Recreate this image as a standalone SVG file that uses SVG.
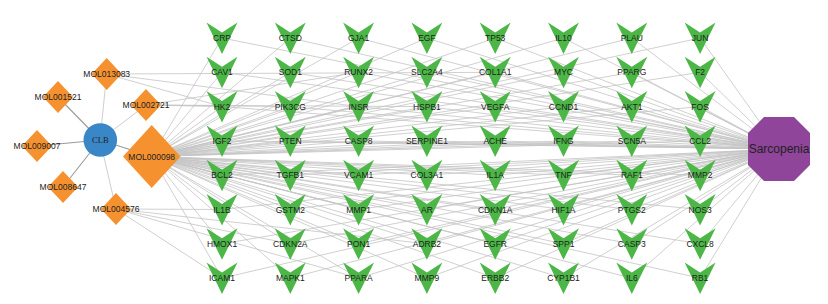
<svg xmlns="http://www.w3.org/2000/svg" xmlns:xlink="http://www.w3.org/1999/xlink" width="828" height="304" viewBox="0 0 828 304">
<style>
.e{stroke:#c4c4c4;stroke-width:0.8;fill:none}
.ed{stroke:#9a9a9a;stroke-width:1.1;fill:none}
.el{stroke:#cfcfcf;stroke-width:1;fill:none}
.t{font-family:"Liberation Sans",Arial,sans-serif;font-size:8.5px;fill:#222;text-anchor:middle}
.g{fill:#4CB747}
.o{fill:#F5922F}
</style>
<defs>
<polygon id="v" points="-15.5,-15.5 0,-5.5 15.5,-15.5 0,16" class="g"/>
</defs>
<rect width="828" height="304" fill="#fff"/>
<g id="edges">
<line class="ed" x1="100" y1="140" x2="151.7" y2="156.5"/>
<line class="ed" x1="100" y1="140" x2="37" y2="146"/>
<line class="ed" x1="100" y1="140" x2="58" y2="97"/>
<line class="ed" x1="100" y1="140" x2="63" y2="187"/>
<line class="el" x1="100" y1="140" x2="106.7" y2="74"/>
<line class="el" x1="100" y1="140" x2="146" y2="105"/>
<line class="el" x1="100" y1="140" x2="116" y2="209"/>
<line class="e" x1="106.7" y1="74" x2="222" y2="106.6"/>
<line class="e" x1="106.7" y1="74" x2="358.6" y2="106.6"/>
<line class="e" x1="106.7" y1="74" x2="495.2" y2="72.3"/>
<line class="e" x1="146" y1="105" x2="222" y2="106.6"/>
<line class="e" x1="146" y1="105" x2="290.3" y2="106.6"/>
<line class="e" x1="146" y1="105" x2="358.6" y2="72.3"/>
<line class="e" x1="146" y1="105" x2="426.9" y2="106.6"/>
<line class="e" x1="116" y1="209" x2="222" y2="209.5"/>
<line class="e" x1="116" y1="209" x2="222" y2="278.1"/>
<line class="e" x1="116" y1="209" x2="290.3" y2="243.8"/>
<line class="e" x1="116" y1="209" x2="426.9" y2="243.8"/>
<line class="e" x1="116" y1="209" x2="358.6" y2="278.1"/>
<line class="e" x1="151.7" y1="156.5" x2="222" y2="38"/>
<line class="e" x1="151.7" y1="156.5" x2="290.3" y2="38"/>
<line class="e" x1="151.7" y1="156.5" x2="358.6" y2="38"/>
<line class="e" x1="151.7" y1="156.5" x2="426.9" y2="38"/>
<line class="e" x1="151.7" y1="156.5" x2="495.2" y2="38"/>
<line class="e" x1="151.7" y1="156.5" x2="563.5" y2="38"/>
<line class="e" x1="151.7" y1="156.5" x2="631.8" y2="38"/>
<line class="e" x1="151.7" y1="156.5" x2="700.1" y2="38"/>
<line class="e" x1="151.7" y1="156.5" x2="222" y2="72.3"/>
<line class="e" x1="151.7" y1="156.5" x2="290.3" y2="72.3"/>
<line class="e" x1="151.7" y1="156.5" x2="358.6" y2="72.3"/>
<line class="e" x1="151.7" y1="156.5" x2="426.9" y2="72.3"/>
<line class="e" x1="151.7" y1="156.5" x2="495.2" y2="72.3"/>
<line class="e" x1="151.7" y1="156.5" x2="563.5" y2="72.3"/>
<line class="e" x1="151.7" y1="156.5" x2="631.8" y2="72.3"/>
<line class="e" x1="151.7" y1="156.5" x2="700.1" y2="72.3"/>
<line class="e" x1="151.7" y1="156.5" x2="222" y2="106.6"/>
<line class="e" x1="151.7" y1="156.5" x2="290.3" y2="106.6"/>
<line class="e" x1="151.7" y1="156.5" x2="358.6" y2="106.6"/>
<line class="e" x1="151.7" y1="156.5" x2="426.9" y2="106.6"/>
<line class="e" x1="151.7" y1="156.5" x2="495.2" y2="106.6"/>
<line class="e" x1="151.7" y1="156.5" x2="563.5" y2="106.6"/>
<line class="e" x1="151.7" y1="156.5" x2="631.8" y2="106.6"/>
<line class="e" x1="151.7" y1="156.5" x2="700.1" y2="106.6"/>
<line class="e" x1="151.7" y1="156.5" x2="222" y2="140.9"/>
<line class="e" x1="151.7" y1="156.5" x2="290.3" y2="140.9"/>
<line class="e" x1="151.7" y1="156.5" x2="358.6" y2="140.9"/>
<line class="e" x1="151.7" y1="156.5" x2="426.9" y2="140.9"/>
<line class="e" x1="151.7" y1="156.5" x2="495.2" y2="140.9"/>
<line class="e" x1="151.7" y1="156.5" x2="563.5" y2="140.9"/>
<line class="e" x1="151.7" y1="156.5" x2="631.8" y2="140.9"/>
<line class="e" x1="151.7" y1="156.5" x2="700.1" y2="140.9"/>
<line class="e" x1="151.7" y1="156.5" x2="222" y2="175.2"/>
<line class="e" x1="151.7" y1="156.5" x2="290.3" y2="175.2"/>
<line class="e" x1="151.7" y1="156.5" x2="358.6" y2="175.2"/>
<line class="e" x1="151.7" y1="156.5" x2="426.9" y2="175.2"/>
<line class="e" x1="151.7" y1="156.5" x2="495.2" y2="175.2"/>
<line class="e" x1="151.7" y1="156.5" x2="563.5" y2="175.2"/>
<line class="e" x1="151.7" y1="156.5" x2="631.8" y2="175.2"/>
<line class="e" x1="151.7" y1="156.5" x2="700.1" y2="175.2"/>
<line class="e" x1="151.7" y1="156.5" x2="222" y2="209.5"/>
<line class="e" x1="151.7" y1="156.5" x2="290.3" y2="209.5"/>
<line class="e" x1="151.7" y1="156.5" x2="358.6" y2="209.5"/>
<line class="e" x1="151.7" y1="156.5" x2="426.9" y2="209.5"/>
<line class="e" x1="151.7" y1="156.5" x2="495.2" y2="209.5"/>
<line class="e" x1="151.7" y1="156.5" x2="563.5" y2="209.5"/>
<line class="e" x1="151.7" y1="156.5" x2="631.8" y2="209.5"/>
<line class="e" x1="151.7" y1="156.5" x2="700.1" y2="209.5"/>
<line class="e" x1="151.7" y1="156.5" x2="222" y2="243.8"/>
<line class="e" x1="151.7" y1="156.5" x2="290.3" y2="243.8"/>
<line class="e" x1="151.7" y1="156.5" x2="358.6" y2="243.8"/>
<line class="e" x1="151.7" y1="156.5" x2="426.9" y2="243.8"/>
<line class="e" x1="151.7" y1="156.5" x2="495.2" y2="243.8"/>
<line class="e" x1="151.7" y1="156.5" x2="563.5" y2="243.8"/>
<line class="e" x1="151.7" y1="156.5" x2="631.8" y2="243.8"/>
<line class="e" x1="151.7" y1="156.5" x2="700.1" y2="243.8"/>
<line class="e" x1="151.7" y1="156.5" x2="222" y2="278.1"/>
<line class="e" x1="151.7" y1="156.5" x2="290.3" y2="278.1"/>
<line class="e" x1="151.7" y1="156.5" x2="358.6" y2="278.1"/>
<line class="e" x1="151.7" y1="156.5" x2="426.9" y2="278.1"/>
<line class="e" x1="151.7" y1="156.5" x2="495.2" y2="278.1"/>
<line class="e" x1="151.7" y1="156.5" x2="563.5" y2="278.1"/>
<line class="e" x1="151.7" y1="156.5" x2="631.8" y2="278.1"/>
<line class="e" x1="151.7" y1="156.5" x2="700.1" y2="278.1"/>
<line class="e" x1="222" y1="38" x2="779" y2="149"/>
<line class="e" x1="290.3" y1="38" x2="779" y2="149"/>
<line class="e" x1="358.6" y1="38" x2="779" y2="149"/>
<line class="e" x1="426.9" y1="38" x2="779" y2="149"/>
<line class="e" x1="495.2" y1="38" x2="779" y2="149"/>
<line class="e" x1="563.5" y1="38" x2="779" y2="149"/>
<line class="e" x1="631.8" y1="38" x2="779" y2="149"/>
<line class="e" x1="700.1" y1="38" x2="779" y2="149"/>
<line class="e" x1="222" y1="72.3" x2="779" y2="149"/>
<line class="e" x1="290.3" y1="72.3" x2="779" y2="149"/>
<line class="e" x1="358.6" y1="72.3" x2="779" y2="149"/>
<line class="e" x1="426.9" y1="72.3" x2="779" y2="149"/>
<line class="e" x1="495.2" y1="72.3" x2="779" y2="149"/>
<line class="e" x1="563.5" y1="72.3" x2="779" y2="149"/>
<line class="e" x1="631.8" y1="72.3" x2="779" y2="149"/>
<line class="e" x1="700.1" y1="72.3" x2="779" y2="149"/>
<line class="e" x1="222" y1="106.6" x2="779" y2="149"/>
<line class="e" x1="290.3" y1="106.6" x2="779" y2="149"/>
<line class="e" x1="358.6" y1="106.6" x2="779" y2="149"/>
<line class="e" x1="426.9" y1="106.6" x2="779" y2="149"/>
<line class="e" x1="495.2" y1="106.6" x2="779" y2="149"/>
<line class="e" x1="563.5" y1="106.6" x2="779" y2="149"/>
<line class="e" x1="631.8" y1="106.6" x2="779" y2="149"/>
<line class="e" x1="700.1" y1="106.6" x2="779" y2="149"/>
<line class="e" x1="222" y1="140.9" x2="779" y2="149"/>
<line class="e" x1="290.3" y1="140.9" x2="779" y2="149"/>
<line class="e" x1="358.6" y1="140.9" x2="779" y2="149"/>
<line class="e" x1="426.9" y1="140.9" x2="779" y2="149"/>
<line class="e" x1="495.2" y1="140.9" x2="779" y2="149"/>
<line class="e" x1="563.5" y1="140.9" x2="779" y2="149"/>
<line class="e" x1="631.8" y1="140.9" x2="779" y2="149"/>
<line class="e" x1="700.1" y1="140.9" x2="779" y2="149"/>
<line class="e" x1="222" y1="175.2" x2="779" y2="149"/>
<line class="e" x1="290.3" y1="175.2" x2="779" y2="149"/>
<line class="e" x1="358.6" y1="175.2" x2="779" y2="149"/>
<line class="e" x1="426.9" y1="175.2" x2="779" y2="149"/>
<line class="e" x1="495.2" y1="175.2" x2="779" y2="149"/>
<line class="e" x1="563.5" y1="175.2" x2="779" y2="149"/>
<line class="e" x1="631.8" y1="175.2" x2="779" y2="149"/>
<line class="e" x1="700.1" y1="175.2" x2="779" y2="149"/>
<line class="e" x1="222" y1="209.5" x2="779" y2="149"/>
<line class="e" x1="290.3" y1="209.5" x2="779" y2="149"/>
<line class="e" x1="358.6" y1="209.5" x2="779" y2="149"/>
<line class="e" x1="426.9" y1="209.5" x2="779" y2="149"/>
<line class="e" x1="495.2" y1="209.5" x2="779" y2="149"/>
<line class="e" x1="563.5" y1="209.5" x2="779" y2="149"/>
<line class="e" x1="631.8" y1="209.5" x2="779" y2="149"/>
<line class="e" x1="700.1" y1="209.5" x2="779" y2="149"/>
<line class="e" x1="222" y1="243.8" x2="779" y2="149"/>
<line class="e" x1="290.3" y1="243.8" x2="779" y2="149"/>
<line class="e" x1="358.6" y1="243.8" x2="779" y2="149"/>
<line class="e" x1="426.9" y1="243.8" x2="779" y2="149"/>
<line class="e" x1="495.2" y1="243.8" x2="779" y2="149"/>
<line class="e" x1="563.5" y1="243.8" x2="779" y2="149"/>
<line class="e" x1="631.8" y1="243.8" x2="779" y2="149"/>
<line class="e" x1="700.1" y1="243.8" x2="779" y2="149"/>
<line class="e" x1="222" y1="278.1" x2="779" y2="149"/>
<line class="e" x1="290.3" y1="278.1" x2="779" y2="149"/>
<line class="e" x1="358.6" y1="278.1" x2="779" y2="149"/>
<line class="e" x1="426.9" y1="278.1" x2="779" y2="149"/>
<line class="e" x1="495.2" y1="278.1" x2="779" y2="149"/>
<line class="e" x1="563.5" y1="278.1" x2="779" y2="149"/>
<line class="e" x1="631.8" y1="278.1" x2="779" y2="149"/>
<line class="e" x1="700.1" y1="278.1" x2="779" y2="149"/>
</g>
<g id="CLB"><circle cx="100.3" cy="140" r="16.8" fill="#3A87C8"/><text x="100.3" y="143" font-family="'Liberation Serif','Times New Roman',serif" font-size="8.6" fill="#222" text-anchor="middle">CLB</text></g>
<g id="MOL013083"><polygon class="o" points="106.7,58 121.7,74 106.7,90 91.7,74"/><text class="t" x="106.7" y="77">MOL013083</text></g>
<g id="MOL001521"><polygon class="o" points="58,81 73,97 58,113 43,97"/><text class="t" x="58" y="100">MOL001521</text></g>
<g id="MOL002721"><polygon class="o" points="146,89 161,105 146,121 131,105"/><text class="t" x="146" y="108">MOL002721</text></g>
<g id="MOL009007"><polygon class="o" points="37,130 52,146 37,162 22,146"/><text class="t" x="37" y="149">MOL009007</text></g>
<g id="MOL008647"><polygon class="o" points="63,171 78,187 63,203 48,187"/><text class="t" x="63" y="190">MOL008647</text></g>
<g id="MOL004576"><polygon class="o" points="116,193 131,209 116,225 101,209"/><text class="t" x="116" y="212">MOL004576</text></g>
<g id="MOL000098"><polygon class="o" points="151.7,125 180.5,156.5 151.7,188 123,156.5"/><text class="t" x="151.7" y="159.5">MOL000098</text></g>
<g id="CRP"><use xlink:href="#v" x="222" y="38"/><text class="t" x="222" y="41">CRP</text></g>
<g id="CTSD"><use xlink:href="#v" x="290.3" y="38"/><text class="t" x="290.3" y="41">CTSD</text></g>
<g id="GJA1"><use xlink:href="#v" x="358.6" y="38"/><text class="t" x="358.6" y="41">GJA1</text></g>
<g id="EGF"><use xlink:href="#v" x="426.9" y="38"/><text class="t" x="426.9" y="41">EGF</text></g>
<g id="TP53"><use xlink:href="#v" x="495.2" y="38"/><text class="t" x="495.2" y="41">TP53</text></g>
<g id="IL10"><use xlink:href="#v" x="563.5" y="38"/><text class="t" x="563.5" y="41">IL10</text></g>
<g id="PLAU"><use xlink:href="#v" x="631.8" y="38"/><text class="t" x="631.8" y="41">PLAU</text></g>
<g id="JUN"><use xlink:href="#v" x="700.1" y="38"/><text class="t" x="700.1" y="41">JUN</text></g>
<g id="CAV1"><use xlink:href="#v" x="222" y="72.3"/><text class="t" x="222" y="75.3">CAV1</text></g>
<g id="SOD1"><use xlink:href="#v" x="290.3" y="72.3"/><text class="t" x="290.3" y="75.3">SOD1</text></g>
<g id="RUNX2"><use xlink:href="#v" x="358.6" y="72.3"/><text class="t" x="358.6" y="75.3">RUNX2</text></g>
<g id="SLC2A4"><use xlink:href="#v" x="426.9" y="72.3"/><text class="t" x="426.9" y="75.3">SLC2A4</text></g>
<g id="COL1A1"><use xlink:href="#v" x="495.2" y="72.3"/><text class="t" x="495.2" y="75.3">COL1A1</text></g>
<g id="MYC"><use xlink:href="#v" x="563.5" y="72.3"/><text class="t" x="563.5" y="75.3">MYC</text></g>
<g id="PPARG"><use xlink:href="#v" x="631.8" y="72.3"/><text class="t" x="631.8" y="75.3">PPARG</text></g>
<g id="F2"><use xlink:href="#v" x="700.1" y="72.3"/><text class="t" x="700.1" y="75.3">F2</text></g>
<g id="HK2"><use xlink:href="#v" x="222" y="106.6"/><text class="t" x="222" y="109.6">HK2</text></g>
<g id="PIK3CG"><use xlink:href="#v" x="290.3" y="106.6"/><text class="t" x="290.3" y="109.6">PIK3CG</text></g>
<g id="INSR"><use xlink:href="#v" x="358.6" y="106.6"/><text class="t" x="358.6" y="109.6">INSR</text></g>
<g id="HSPB1"><use xlink:href="#v" x="426.9" y="106.6"/><text class="t" x="426.9" y="109.6">HSPB1</text></g>
<g id="VEGFA"><use xlink:href="#v" x="495.2" y="106.6"/><text class="t" x="495.2" y="109.6">VEGFA</text></g>
<g id="CCND1"><use xlink:href="#v" x="563.5" y="106.6"/><text class="t" x="563.5" y="109.6">CCND1</text></g>
<g id="AKT1"><use xlink:href="#v" x="631.8" y="106.6"/><text class="t" x="631.8" y="109.6">AKT1</text></g>
<g id="FOS"><use xlink:href="#v" x="700.1" y="106.6"/><text class="t" x="700.1" y="109.6">FOS</text></g>
<g id="IGF2"><use xlink:href="#v" x="222" y="140.9"/><text class="t" x="222" y="143.9">IGF2</text></g>
<g id="PTEN"><use xlink:href="#v" x="290.3" y="140.9"/><text class="t" x="290.3" y="143.9">PTEN</text></g>
<g id="CASP8"><use xlink:href="#v" x="358.6" y="140.9"/><text class="t" x="358.6" y="143.9">CASP8</text></g>
<g id="SERPINE1"><use xlink:href="#v" x="426.9" y="140.9"/><text class="t" x="426.9" y="143.9">SERPINE1</text></g>
<g id="ACHE"><use xlink:href="#v" x="495.2" y="140.9"/><text class="t" x="495.2" y="143.9">ACHE</text></g>
<g id="IFNG"><use xlink:href="#v" x="563.5" y="140.9"/><text class="t" x="563.5" y="143.9">IFNG</text></g>
<g id="SCN5A"><use xlink:href="#v" x="631.8" y="140.9"/><text class="t" x="631.8" y="143.9">SCN5A</text></g>
<g id="CCL2"><use xlink:href="#v" x="700.1" y="140.9"/><text class="t" x="700.1" y="143.9">CCL2</text></g>
<g id="BCL2"><use xlink:href="#v" x="222" y="175.2"/><text class="t" x="222" y="178.2">BCL2</text></g>
<g id="TGFB1"><use xlink:href="#v" x="290.3" y="175.2"/><text class="t" x="290.3" y="178.2">TGFB1</text></g>
<g id="VCAM1"><use xlink:href="#v" x="358.6" y="175.2"/><text class="t" x="358.6" y="178.2">VCAM1</text></g>
<g id="COL3A1"><use xlink:href="#v" x="426.9" y="175.2"/><text class="t" x="426.9" y="178.2">COL3A1</text></g>
<g id="IL1A"><use xlink:href="#v" x="495.2" y="175.2"/><text class="t" x="495.2" y="178.2">IL1A</text></g>
<g id="TNF"><use xlink:href="#v" x="563.5" y="175.2"/><text class="t" x="563.5" y="178.2">TNF</text></g>
<g id="RAF1"><use xlink:href="#v" x="631.8" y="175.2"/><text class="t" x="631.8" y="178.2">RAF1</text></g>
<g id="MMP2"><use xlink:href="#v" x="700.1" y="175.2"/><text class="t" x="700.1" y="178.2">MMP2</text></g>
<g id="IL1B"><use xlink:href="#v" x="222" y="209.5"/><text class="t" x="222" y="212.5">IL1B</text></g>
<g id="GSTM2"><use xlink:href="#v" x="290.3" y="209.5"/><text class="t" x="290.3" y="212.5">GSTM2</text></g>
<g id="MMP1"><use xlink:href="#v" x="358.6" y="209.5"/><text class="t" x="358.6" y="212.5">MMP1</text></g>
<g id="AR"><use xlink:href="#v" x="426.9" y="209.5"/><text class="t" x="426.9" y="212.5">AR</text></g>
<g id="CDKN1A"><use xlink:href="#v" x="495.2" y="209.5"/><text class="t" x="495.2" y="212.5">CDKN1A</text></g>
<g id="HIF1A"><use xlink:href="#v" x="563.5" y="209.5"/><text class="t" x="563.5" y="212.5">HIF1A</text></g>
<g id="PTGS2"><use xlink:href="#v" x="631.8" y="209.5"/><text class="t" x="631.8" y="212.5">PTGS2</text></g>
<g id="NOS3"><use xlink:href="#v" x="700.1" y="209.5"/><text class="t" x="700.1" y="212.5">NOS3</text></g>
<g id="HMOX1"><use xlink:href="#v" x="222" y="243.8"/><text class="t" x="222" y="246.8">HMOX1</text></g>
<g id="CDKN2A"><use xlink:href="#v" x="290.3" y="243.8"/><text class="t" x="290.3" y="246.8">CDKN2A</text></g>
<g id="PON1"><use xlink:href="#v" x="358.6" y="243.8"/><text class="t" x="358.6" y="246.8">PON1</text></g>
<g id="ADRB2"><use xlink:href="#v" x="426.9" y="243.8"/><text class="t" x="426.9" y="246.8">ADRB2</text></g>
<g id="EGFR"><use xlink:href="#v" x="495.2" y="243.8"/><text class="t" x="495.2" y="246.8">EGFR</text></g>
<g id="SPP1"><use xlink:href="#v" x="563.5" y="243.8"/><text class="t" x="563.5" y="246.8">SPP1</text></g>
<g id="CASP3"><use xlink:href="#v" x="631.8" y="243.8"/><text class="t" x="631.8" y="246.8">CASP3</text></g>
<g id="CXCL8"><use xlink:href="#v" x="700.1" y="243.8"/><text class="t" x="700.1" y="246.8">CXCL8</text></g>
<g id="ICAM1"><use xlink:href="#v" x="222" y="278.1"/><text class="t" x="222" y="281.1">ICAM1</text></g>
<g id="MAPK1"><use xlink:href="#v" x="290.3" y="278.1"/><text class="t" x="290.3" y="281.1">MAPK1</text></g>
<g id="PPARA"><use xlink:href="#v" x="358.6" y="278.1"/><text class="t" x="358.6" y="281.1">PPARA</text></g>
<g id="MMP9"><use xlink:href="#v" x="426.9" y="278.1"/><text class="t" x="426.9" y="281.1">MMP9</text></g>
<g id="ERBB2"><use xlink:href="#v" x="495.2" y="278.1"/><text class="t" x="495.2" y="281.1">ERBB2</text></g>
<g id="CYP1B1"><use xlink:href="#v" x="563.5" y="278.1"/><text class="t" x="563.5" y="281.1">CYP1B1</text></g>
<g id="IL6"><use xlink:href="#v" x="631.8" y="278.1"/><text class="t" x="631.8" y="281.1">IL6</text></g>
<g id="RB1"><use xlink:href="#v" x="700.1" y="278.1"/><text class="t" x="700.1" y="281.1">RB1</text></g>
<g id="Sarcopenia"><polygon points="764,117 794,117 810,133 810,165 794,181 764,181 748,165 748,133" fill="#8F459A"/><text x="779" y="153" font-family="'Liberation Sans',Arial,sans-serif" font-size="12" fill="#222" text-anchor="middle">Sarcopenia</text></g>
</svg>
